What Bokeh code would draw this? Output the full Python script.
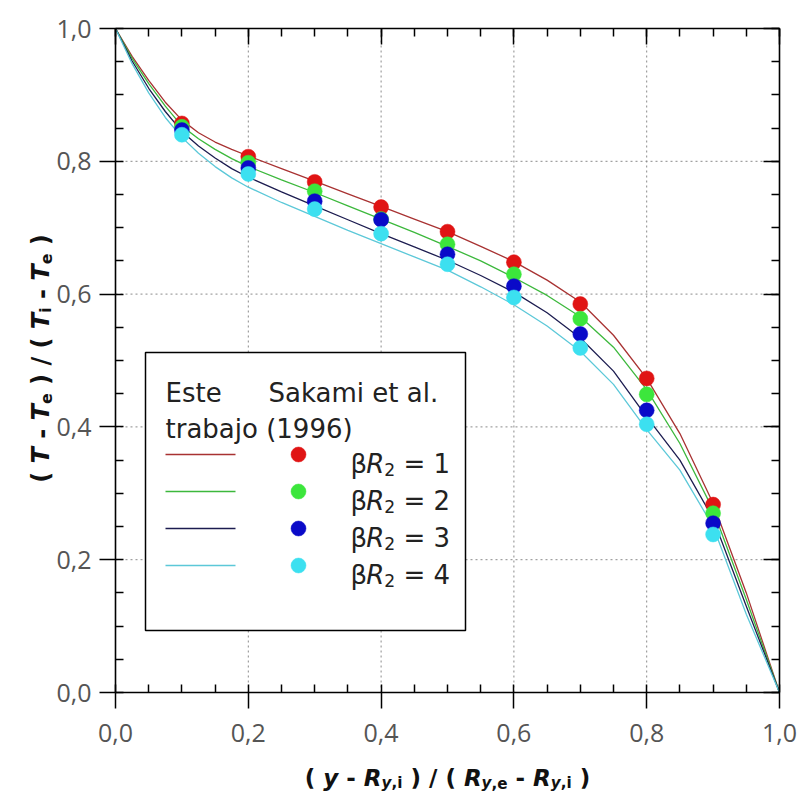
import math
from bokeh.plotting import figure
from bokeh.models import (Range1d, Label, LinearAxis, SingleIntervalTicker,
                          CustomJSTickFormatter)
from bokeh.embed import file_html
from bokeh.resources import INLINE

# ---------------- data ----------------
x_points = [0.1, 0.2, 0.3, 0.4, 0.5, 0.6, 0.7, 0.8, 0.9]
sakami_b1 = [0.857, 0.807, 0.769, 0.731, 0.694, 0.648, 0.585, 0.473, 0.283]
sakami_b2 = [0.852, 0.798, 0.755, 0.713, 0.675, 0.630, 0.563, 0.449, 0.270]
sakami_b3 = [0.847, 0.790, 0.740, 0.712, 0.660, 0.612, 0.540, 0.425, 0.255]
sakami_b4 = [0.840, 0.781, 0.728, 0.691, 0.645, 0.595, 0.519, 0.404, 0.238]

x_line = [0.0, 0.025, 0.05, 0.075, 0.1, 0.125, 0.15, 0.175, 0.2, 0.25, 0.3, 0.35, 0.4,
          0.45, 0.5, 0.55, 0.6, 0.65, 0.7, 0.75, 0.8, 0.85, 0.9, 0.95, 1.0]
este_b1 = [1.0, 0.958, 0.922, 0.889, 0.862, 0.843, 0.829, 0.818, 0.808, 0.789, 0.770,
           0.751, 0.732, 0.713, 0.694, 0.672, 0.649, 0.621, 0.588, 0.538, 0.473, 0.390,
           0.285, 0.150, 0.0]
este_b2 = [1.0, 0.955, 0.917, 0.883, 0.853, 0.834, 0.818, 0.804, 0.792, 0.772, 0.753,
           0.733, 0.713, 0.693, 0.672, 0.650, 0.625, 0.598, 0.566, 0.520, 0.456, 0.375,
           0.275, 0.140, 0.0]
este_b3 = [1.0, 0.951, 0.910, 0.875, 0.845, 0.823, 0.805, 0.789, 0.776, 0.754, 0.733,
           0.712, 0.691, 0.671, 0.651, 0.628, 0.603, 0.572, 0.534, 0.484, 0.415, 0.350,
           0.262, 0.130, 0.0]
este_b4 = [1.0, 0.947, 0.903, 0.866, 0.836, 0.812, 0.792, 0.775, 0.761, 0.738, 0.717,
           0.696, 0.676, 0.656, 0.636, 0.611, 0.584, 0.552, 0.514, 0.464, 0.396, 0.335,
           0.250, 0.118, 0.0]

series_labels = ["1", "2", "3", "4"]
line_colors = ["#a83232", "#3cb83c", "#1c1c50", "#5cc8d8"]
marker_colors = ["#e01414", "#3ce63c", "#0a0ac8", "#3ce0f0"]

tick_values = [0.0, 0.2, 0.4, 0.6, 0.8, 1.0]
tick_labels = ["0,0", "0,2", "0,4", "0,6", "0,8", "1,0"]

legend_header = ["Este", "Sakami et al.", "trabajo (1996)"]

# ---------------- layout helpers ----------------
CW_W, CW_H = 804, 793          # canvas
L, T, W, H = 115, 28, 664, 664  # plot box inside canvas (pixels)
TICK_FONT = "Open Sans"
TEXT_FONT = "DejaVu Sans"


def px2x(px):
    return (px - L) / W


def py2y(py):
    return (T + H - py) / H


# DejaVu Sans advance widths (em)
W_REG = {' ': 0.318, '(': 0.390, ')': 0.390, '-': 0.361, '/': 0.337, '=': 0.838,
         'β': 0.602, 'R': 0.695, 'T': 0.611, 'y': 0.592, 'e': 0.615, 'i': 0.278, ',': 0.318}
W_BOLD = {' ': 0.348, '(': 0.457, ')': 0.457, '-': 0.415, '/': 0.365, '=': 0.838,
          'R': 0.770, 'T': 0.682, 'y': 0.652, 'e': 0.678, 'i': 0.343, ',': 0.380}


def text_w(s, size, bold):
    tbl = W_BOLD if bold else W_REG
    return sum(tbl.get(c, 0.696 if bold else 0.636) for c in s) * size


def runs(p, pieces, size, center, base, vertical=False, bold=True, color="#111111",
         start=None):
    sizes = [size * 0.66 if sub else size for (_, _, sub) in pieces]
    total = sum(text_w(t, s, bold) for (t, _, _), s in zip(pieces, sizes))
    if start is None:
        cur = center + total / 2 if vertical else center - total / 2
    else:
        cur = start
    for (t, it, sub), s in zip(pieces, sizes):
        style = ("bold " if bold else "") + ("italic" if it else "")
        style = style.strip() or "normal"
        off = size * 0.22 if sub else 0
        stripped = t.strip()
        lead = text_w(t[:len(t) - len(t.lstrip())], s, bold)
        if stripped:
            if vertical:
                lab = Label(x=px2x(base + off), y=py2y(cur - lead), text=stripped,
                            angle=math.pi / 2, text_align="left",
                            text_baseline="alphabetic")
            else:
                lab = Label(x=px2x(cur + lead), y=py2y(base + off), text=stripped,
                            text_align="left", text_baseline="alphabetic")
            lab.text_font = TEXT_FONT
            lab.text_font_size = f"{s:.1f}px"
            lab.text_font_style = style
            lab.text_color = color
            p.add_layout(lab)
        if vertical:
            cur -= text_w(t, s, bold)
        else:
            cur += text_w(t, s, bold)


# ---------------- figure ----------------
p = figure(width=CW_W, height=CW_H,
           x_range=Range1d(px2x(0), px2x(CW_W)), y_range=Range1d(py2y(CW_H), py2y(0)),
           output_backend="svg", toolbar_location=None,
           min_border_left=0, min_border_right=0, min_border_top=0, min_border_bottom=0,
           x_axis_location=None, y_axis_location=None)
p.background_fill_color = "white"
p.border_fill_color = "white"
p.outline_line_color = None
p.xgrid.visible = False
p.ygrid.visible = False

fmt = CustomJSTickFormatter(args=dict(tv=tick_values, tl=tick_labels), code="""
let b = 0;
for (let i = 0; i < tv.length; i++) {
  if (Math.abs(tv[i] - tick) < Math.abs(tv[b] - tick)) b = i;
}
return tl[b];
""")
blank = CustomJSTickFormatter(code="return '';")


def make_axis(loc, outside, labels, standoff):
    ax = LinearAxis(ticker=SingleIntervalTicker(interval=0.2, num_minor_ticks=4),
                    formatter=fmt if labels else blank, fixed_location=loc, bounds=(0, 1))
    ax.axis_line_color = "black"
    ax.axis_line_width = 1.6
    ax.major_tick_line_width = 1.5
    ax.minor_tick_line_width = 1.5
    ax.major_tick_line_color = "black"
    ax.minor_tick_line_color = "black"
    if outside:
        ax.major_tick_out = 16
        ax.major_tick_in = 0
    else:
        ax.major_tick_out = 0
        ax.major_tick_in = 16
    ax.minor_tick_in = 8
    ax.minor_tick_out = 0
    ax.major_label_text_font = TICK_FONT
    ax.major_label_text_font_size = "25px"
    ax.major_label_text_color = "#555555"
    ax.major_label_standoff = standoff
    return ax


# grid (dotted) at the inner major ticks, limited to the plot box
inner = tick_values[1:-1]
p.segment(x0=inner, y0=[0.0] * len(inner), x1=inner, y1=[1.0] * len(inner),
          line_color="#8a8a8a", line_dash="2 3", line_width=1)
p.segment(x0=[0.0] * len(inner), y0=inner, x1=[1.0] * len(inner), y1=inner,
          line_color="#8a8a8a", line_dash="2 3", line_width=1)

p.add_layout(make_axis(0, True, True, 15), "below")
p.add_layout(make_axis(0, True, True, 8), "left")
p.add_layout(make_axis(1, False, False, 0), "above")
p.add_layout(make_axis(1, False, False, 0), "right")

# ---------------- legend box (drawn before the data marks) ----------------
p.quad(left=[px2x(145)], right=[px2x(465)], top=[py2y(352)], bottom=[py2y(630)],
       fill_color="white", line_color="black", line_width=1.5)

# curves
for ys, c in zip([este_b1, este_b2, este_b3, este_b4], line_colors):
    p.line(x_line, ys, line_color=c, line_width=1.3)

# points
for ys, c in zip([sakami_b1, sakami_b2, sakami_b3, sakami_b4], marker_colors):
    p.scatter(x_points, ys, marker="circle", size=15, fill_color=c, line_color=c,
              line_width=0.5)

# ---------------- legend content ----------------
for txt, xx, yy in [(legend_header[0], 165, 392), (legend_header[1], 268, 392),
                    (legend_header[2], 165, 428)]:
    lab = Label(x=px2x(xx), y=py2y(yy), text=txt, text_align="left",
                text_baseline="alphabetic", text_font=TEXT_FONT, text_font_size="26px",
                text_color="#222222")
    p.add_layout(lab)

row_y = [454, 491, 528, 565]
for lbl, lc, mc, ry in zip(series_labels, line_colors, marker_colors, row_y):
    p.line([px2x(165), px2x(235)], [py2y(ry), py2y(ry)], line_color=lc, line_width=1.3)
    p.scatter([px2x(298)], [py2y(ry)], marker="circle", size=15, fill_color=mc,
              line_color=mc, line_width=0.5)
    runs(p, [("β", False, False), ("R", True, False), ("2", False, True),
             (" = " + lbl, False, False)], 26, None, ry + 9, bold=False,
         color="#222222", start=350)

# ---------------- axis titles ----------------
xt = [("( ", False, False), ("y", True, False), (" - ", False, False), ("R", True, False),
      ("y", True, True), (",i", False, True), (" ) / ( ", False, False), ("R", True, False),
      ("y", True, True), (",e", False, True), (" - ", False, False), ("R", True, False),
      ("y", True, True), (",i", False, True), (" )", False, False)]
runs(p, xt, 23, 447, 777)

yt = [("( ", False, False), ("T", True, False), (" - ", False, False), ("T", True, False),
      ("e", False, True), (" ) / ( ", False, False), ("T", True, False), ("i", False, True),
      (" - ", False, False), ("T", True, False), ("e", False, True), (" )", False, False)]
runs(p, yt, 24, 358, 40, vertical=True)

open("out.html", "w").write(file_html(p, INLINE))
